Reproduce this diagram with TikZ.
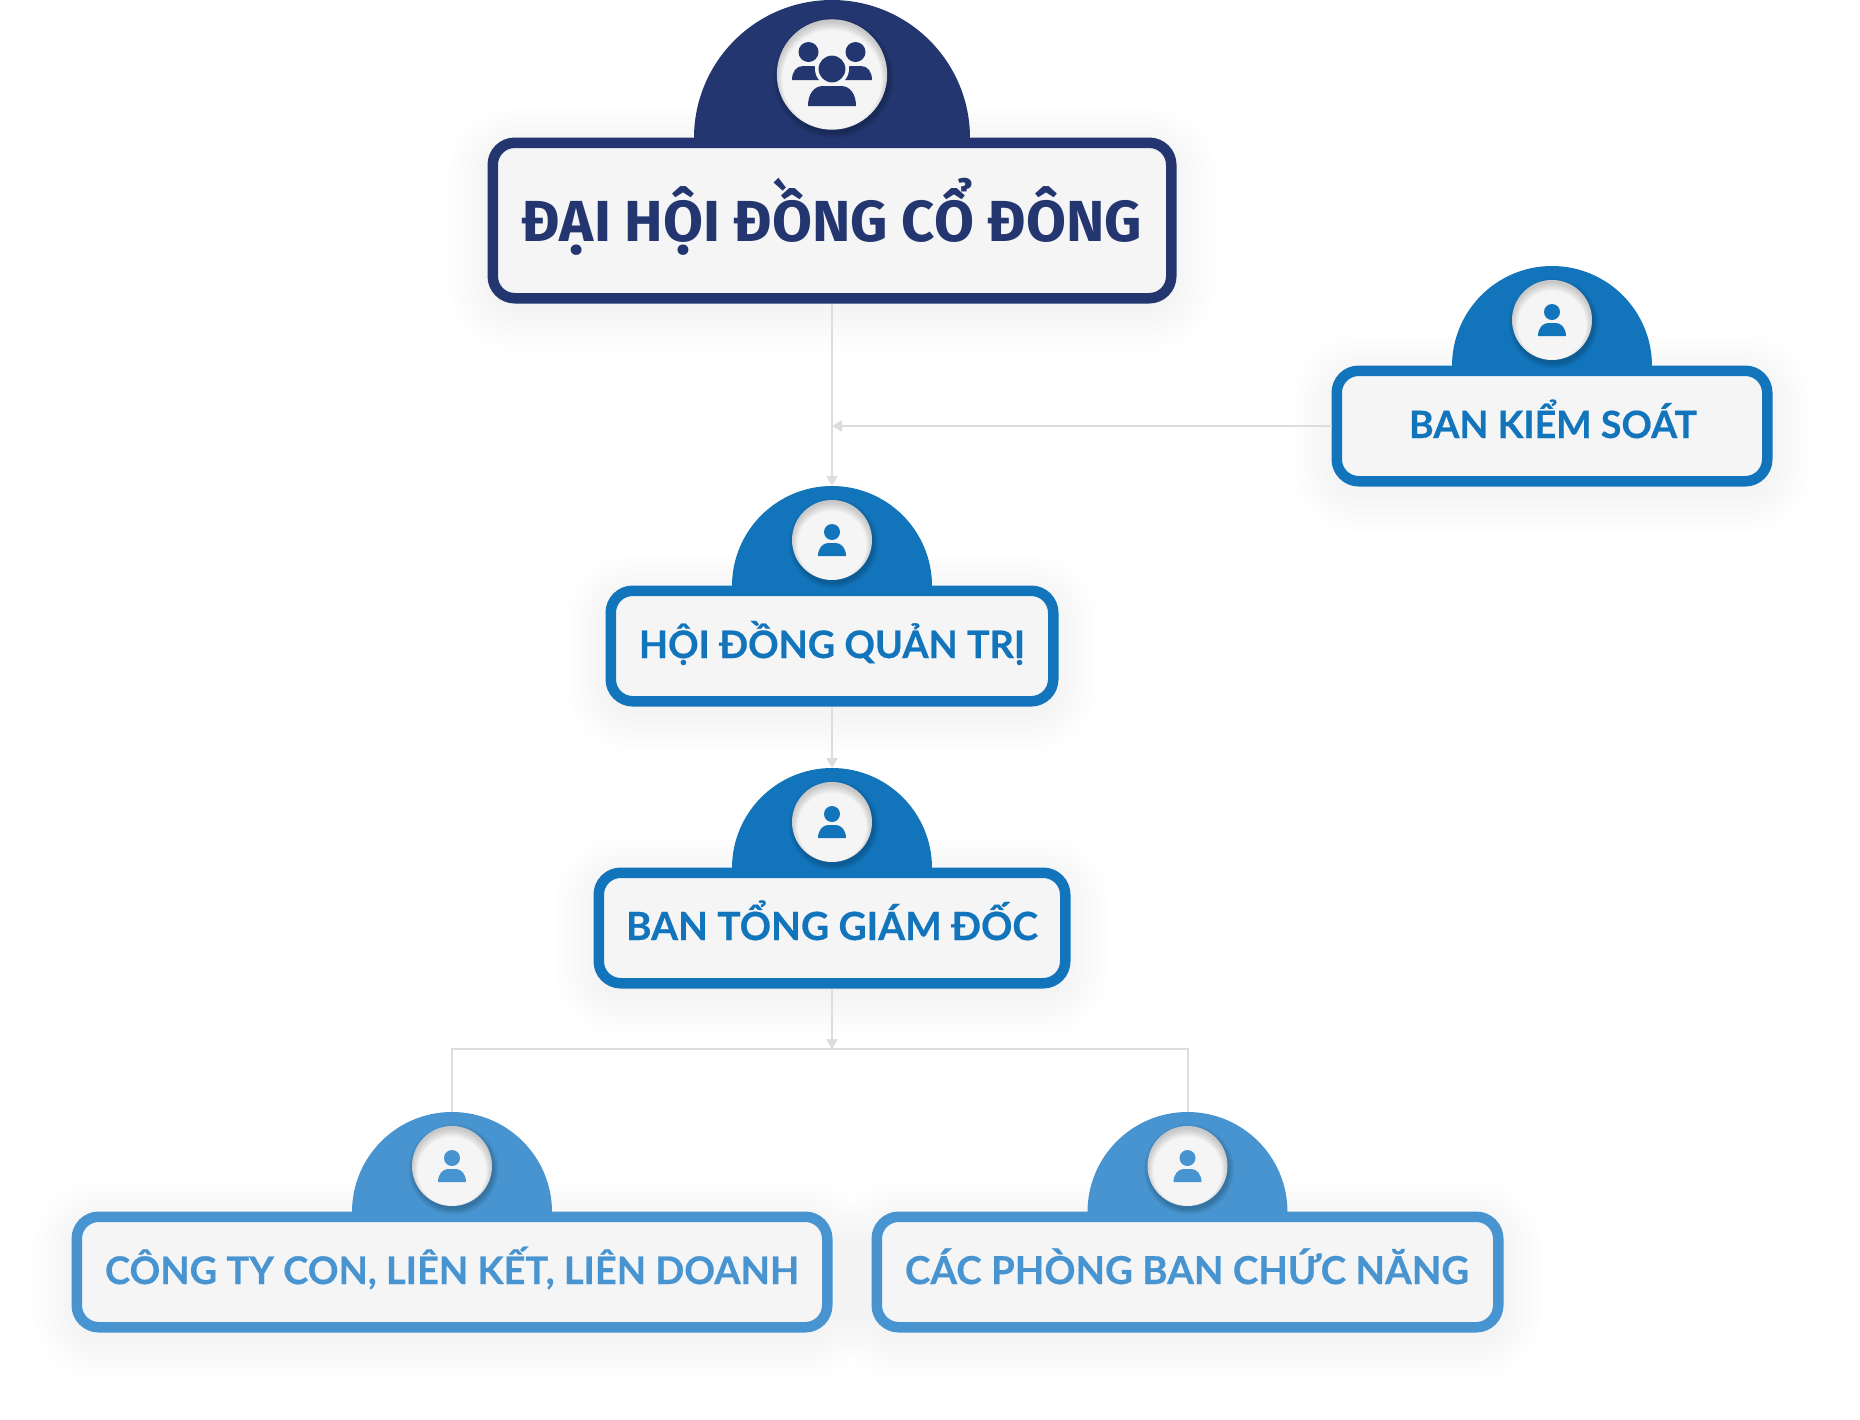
\documentclass[tikz,border=0pt]{standalone}
\usepackage{graphicx}
\usepackage{fontspec}
\usetikzlibrary{arrows.meta}
\newfontfamily\titlefont{Fira Sans}
\newfontfamily\bodyfont{Lato}[BoldFeatures={FakeBold=0.45}]
\definecolor{navy}{HTML}{23366F}
\definecolor{midblue}{HTML}{1275BC}
\definecolor{lightblue}{HTML}{4794D0}
\definecolor{paper}{HTML}{F5F5F6}
\definecolor{wire}{HTML}{DCDDDD}
\tikzset{
  px/.style={x=0.5pt,y=-0.5pt},
  orgbox/.style={draw,fill=paper,line width=5.25pt,rounded corners=11pt,inner sep=0pt},
  conn/.style={draw=wire,line width=1pt},
  connarrow/.style={conn,-{Triangle[width=5.6pt,length=5pt,fill=wire]}},
  boxlabel/.style={anchor=base,inner sep=0pt,outer sep=0pt,font=\bodyfont\bfseries\fontsize{19.5}{22}\selectfont},
}
% cx, top, w, h : soft shadow under a box
\newcommand{\softshadow}[4]{%
  \foreach \s in {0,4,...,40}{%
    \fill[black,opacity=.0035,rounded corners=14pt+\s*0.5pt]
      ({#1-#3/2-\s},{#2+8-\s}) rectangle ({#1+#3/2+\s},{#2+#4+8+\s});
  }%
}
% name, cx, top, w, h, R, colour
\newcommand{\orgshape}[7]{%
  \fill[#7] ({#2-#6},#3+12) -- ({#2-#6},#3) arc[start angle=180,end angle=0,radius=#6*0.5pt] -- ({#2+#6},#3+12) -- cycle;
  \coordinate (#1-dome) at (#2,{#3-#6});
  \node[orgbox,draw=#7,minimum width=#4*0.5pt-4.75pt,minimum height=#5*0.5pt-4.75pt] (#1) at (#2,{#3+#5/2}) {};
  \pgfmathsetmacro{\cy}{#3-0.46*#6}
  \pgfmathsetmacro{\cr}{0.4*#6}
  \foreach \s in {0,...,5}{%
    \fill[black,opacity=.035] ({#2+1.5},{\cy+3.5}) circle[radius=(\cr+\s)*0.5pt];
  }
  \fill[paper] (#2,\cy) circle[radius=\cr*0.5pt];
  \begin{scope}
    \clip (#2,\cy) circle[radius=\cr*0.5pt];
    \foreach \s in {0,...,5}{%
      \fill[black,opacity=.03,even odd rule] (#2,\cy) circle[radius=(\cr+9)*0.5pt]
        (#2,{\cy+3+\s*0.4}) circle[radius=(\cr-\s*1.1)*0.5pt];
    }
  \end{scope}
}
% cx, cy, colour : person glyph
\newcommand{\personicon}[3]{%
  \begin{scope}[shift={(#1,#2)}]
    \fill[#3] (0,-8) circle[radius=4pt];
    \fill[#3] (-14,16) .. controls (-14,8) and (-9,3) .. (-4,3) -- (4,3)
      .. controls (9,3) and (14,8) .. (14,16) -- cycle;
  \end{scope}
}
\begin{document}
\begin{tikzpicture}[px]
\fill[white] (0,0) rectangle (1860,1420);
\useasboundingbox (0,0) rectangle (1860,1420);
% shadows first
\softshadow{832}{138}{688}{165}
\softshadow{1552}{366}{440}{120}
\softshadow{832}{586}{452}{120}
\softshadow{832}{868}{476}{120}
\softshadow{452}{1212}{760}{120}
\softshadow{1187.5}{1212}{631}{120}
% boxes
\orgshape{dhd}{832}{138}{688}{165}{138}{navy}
\orgshape{bks}{1552}{366}{440}{120}{100}{midblue}
\orgshape{hqt}{832}{586}{452}{120}{100}{midblue}
\orgshape{tgd}{832}{868}{476}{120}{100}{midblue}
\orgshape{cty}{452}{1212}{760}{120}{100}{lightblue}
\orgshape{cac}{1187.5}{1212}{631}{120}{100}{lightblue}
% labels
\node[anchor=base,inner sep=0pt,text=navy,font=\titlefont\bfseries\fontsize{27}{30}\selectfont] (dhd-text) at (832,241) {\resizebox{310pt}{!}{ĐẠI HỘI ĐỒNG CỔ ĐÔNG}};
\node[boxlabel,text=midblue] (bks-text) at (1553,438) {\resizebox{144pt}{!}{BAN KIỂM SOÁT}};
\node[boxlabel,text=midblue] (hqt-text) at (832,658) {\resizebox{193pt}{!}{HỘI ĐỒNG QUẢN TRỊ}};
\node[boxlabel,text=midblue] (tgd-text) at (832,940) {\resizebox{206pt}{!}{BAN TỔNG GIÁM ĐỐC}};
\node[boxlabel,text=lightblue] (cty-text) at (452,1284) {\resizebox{347pt}{!}{CÔNG TY CON, LIÊN KẾT, LIÊN DOANH}};
\node[boxlabel,text=lightblue] (cac-text) at (1187,1284) {\resizebox{282pt}{!}{CÁC PHÒNG BAN CHỨC NĂNG}};
% icons
\personicon{1552}{320}{midblue}
\personicon{832}{540}{midblue}
\personicon{832}{822}{midblue}
\personicon{452}{1166}{lightblue}
\personicon{1187.5}{1166}{lightblue}
% group icon
\fill[navy] (808.5,52) circle[radius=5pt];
\fill[navy] (855.5,52) circle[radius=5pt];
\fill[navy] (792,80) .. controls (792,72) and (796,66) .. (803,66) -- (813,66) .. controls (820,66) and (824,72) .. (824,80) -- cycle;
\fill[navy] (840,80) .. controls (840,72) and (844,66) .. (851,66) -- (861,66) .. controls (868,66) and (872,72) .. (872,80) -- cycle;
\fill[paper] (832,69) circle[radius=8.5pt];
\fill[navy] (832,69) circle[radius=6.7pt];
\fill[navy] (808,106) .. controls (808,94) and (814,86) .. (823,86) -- (841,86) .. controls (850,86) and (856,94) .. (856,106) -- cycle;
% connectors
\coordinate (tee) at (832,1049);
\draw[connarrow] (dhd.south) -- (hqt-dome);
\draw[connarrow] (bks.west) -- (dhd.south |- bks.west);
\draw[connarrow] (hqt.south) -- (tgd-dome);
\draw[connarrow] (tgd.south) -- (tee);
\draw[conn] (cty-dome) -- (cty-dome |- tee) -- (cac-dome |- tee) -- (cac-dome);
\end{tikzpicture}
\end{document}
